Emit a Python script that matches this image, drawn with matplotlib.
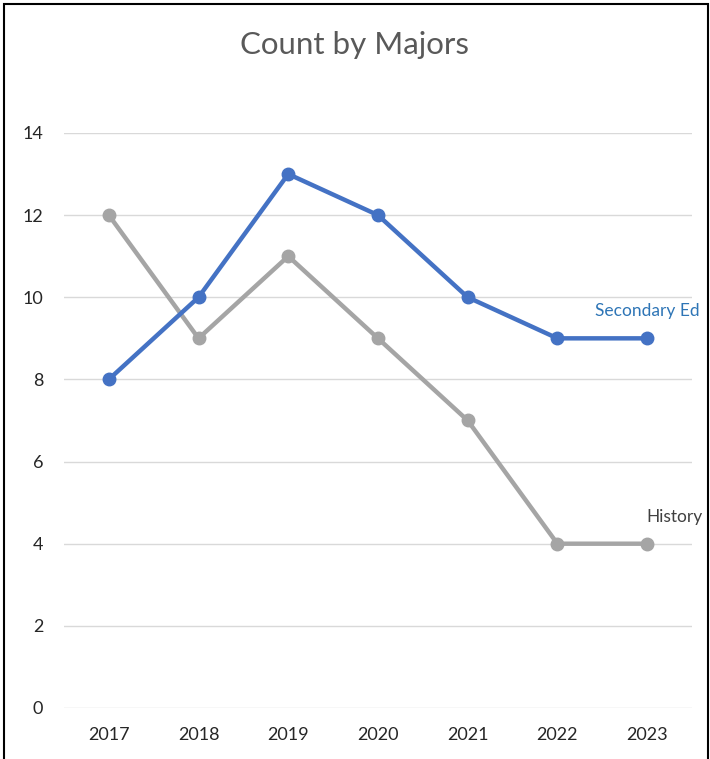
import matplotlib
matplotlib.use("Agg")
import matplotlib.pyplot as plt
from matplotlib.patches import Rectangle

# Data
years = ["2017", "2018", "2019", "2020", "2021", "2022", "2023"]
secondary_ed = [8, 10, 13, 12, 10, 9, 9]
history = [12, 9, 11, 9, 7, 4, 4]

BLUE = "#4472C4"
GRAY = "#A5A5A5"

plt.rcParams["font.family"] = ["Lato", "DejaVu Sans"]

fig = plt.figure(figsize=(7.1, 7.59), dpi=100)
ax = fig.add_axes([0.0901, 0.0672, 0.8845, 0.7576])

x = range(len(years))
ax.plot(x, history, color=GRAY, lw=3.2, marker="o", ms=9, zorder=3)
ax.plot(x, secondary_ed, color=BLUE, lw=3.2, marker="o", ms=9, zorder=4)

ax.set_xlim(-0.5, len(years) - 0.5)
ax.set_ylim(0, 14)
ax.set_yticks(range(0, 15, 2))
ax.set_xticks(list(x))
ax.set_xticklabels(years)
ax.grid(axis="y", color="#D9D9D9", lw=1)
ax.set_axisbelow(True)
for s in ax.spines.values():
    s.set_visible(False)
ax.tick_params(length=0, labelsize=13, colors="#262626")
ax.tick_params(axis="x", pad=14)
ax.tick_params(axis="y", pad=15)

# series labels
ax.annotate("Secondary Ed", (6, secondary_ed[-1]), xytext=(0, 27),
            textcoords="offset pixels", ha="center", va="center",
            color="#2E75B6", fontsize=12.5)
ax.annotate("History", (6, history[-1]), xytext=(27, 27),
            textcoords="offset pixels", ha="center", va="center",
            color="#404040", fontsize=12.5)

fig.text(0.5, 0.941, "Count by Majors", ha="center", va="center",
         fontsize=22.5, color="#595959")

# chart border
fig.patches.append(Rectangle((0.006, -0.01), 0.991, 1.005, transform=fig.transFigure,
                             fill=False, ec="black", lw=1.5))

fig.savefig("out.png", dpi=100)
